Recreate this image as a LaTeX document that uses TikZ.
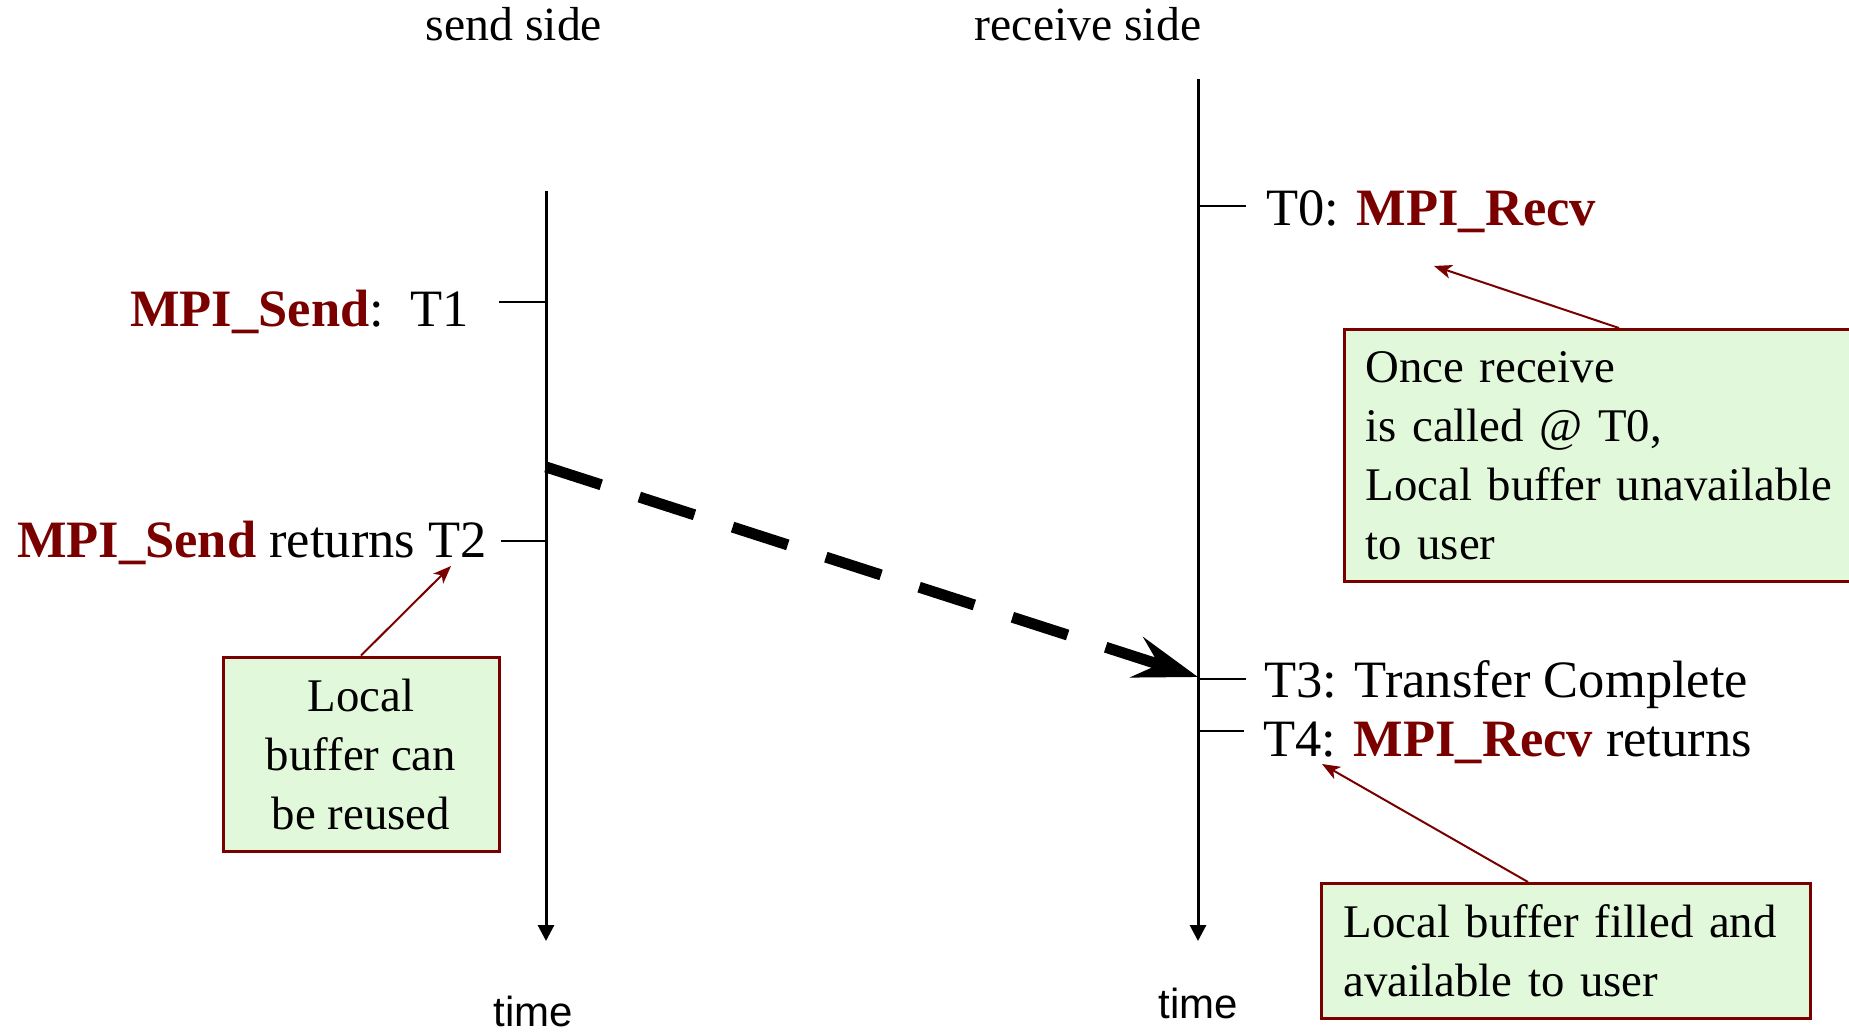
\documentclass[tikz,border=0pt]{standalone}
\usepackage{fontspec}
\setmainfont{Liberation Serif}
\newfontfamily\timefont{Liberation Sans}
\usetikzlibrary{arrows.meta,calc}
\definecolor{mpired}{RGB}{122,0,0}
\definecolor{notefill}{RGB}{226,248,218}
\newcommand{\mpiname}[1]{\textbf{\color{mpired}#1}}

\begin{document}
\begin{tikzpicture}[x=0.5pt,y=-0.5pt,
  lbl/.style={inner sep=0pt,font=\fontsize{26.25pt}{31.5pt}\selectfont},
  hdr/.style={inner sep=0pt,anchor=base,font=\fontsize{23.85pt}{28pt}\selectfont},
  timelbl/.style={inner sep=0pt,anchor=base,font=\timefont\fontsize{21pt}{25pt}\selectfont},
  axisline/.style={line width=1.5pt,-{Triangle[length=8pt,width=8pt]}},
  tickmark/.style={line width=1.25pt},
  note/.style={draw=mpired,fill=notefill,line width=1.5pt,inner sep=0pt,
    font=\fontsize{23.4pt}{29.5pt}\selectfont},
  pointer/.style={draw=mpired,line width=1pt,-{Stealth[length=9pt,width=7pt,inset=2.5pt]}},
  transfer/.style={line width=5.5pt,dash pattern=on 29pt off 20pt,
    -{Stealth[length=32pt,width=21pt,inset=11.5pt]}}
]
\useasboundingbox (0,0) rectangle (1849,1034);
\fill[white] (0,0) rectangle (1849,1034);
\clip (0,0) rectangle (1849,1034);

% column headers
\node[hdr] (hsend) at (514,40) {send side};
\node[hdr] (hrecv) at (1088,40) {receive side};

% time axes
\coordinate (stop) at (546,191);
\coordinate (sbot) at (546,941);
\coordinate (rtop) at (1198,79);
\coordinate (rbot) at (1198,941);
\draw[axisline] (stop) -- (sbot);
\draw[axisline] (rtop) -- (rbot);
\node[timelbl] (stime) at (533,1026) {time};
\node[timelbl] (rtime) at (1198,1018) {time};

% event ticks on the send side
\coordinate (t1a) at (499,302);  \coordinate (t1b) at (546,302);
\coordinate (t2a) at (501,541);  \coordinate (t2b) at (546,541);
\draw[tickmark] (t1a) -- (t1b);
\draw[tickmark] (t2a) -- (t2b);
\node[lbl,anchor=base east] (t1) at (469,326) {\mpiname{MPI\_Send}:\ \ T1};
\node[lbl,anchor=base east] (t2) at (487,557) {\mpiname{MPI\_Send} returns T2};

% event ticks on the receive side
\coordinate (t0a) at (1198,206); \coordinate (t0b) at (1246,206);
\coordinate (t3a) at (1198,679); \coordinate (t3b) at (1246,679);
\coordinate (t4a) at (1198,731); \coordinate (t4b) at (1244,731);
\draw[tickmark] (t0a) -- (t0b);
\draw[tickmark] (t3a) -- (t3b);
\draw[tickmark] (t4a) -- (t4b);
\node[lbl,anchor=base west] (t0) at (1266,225) {T0: \mpiname{MPI\_Recv}};
\node[lbl,anchor=base west] (t3) at (1264,697) {T3: Transfer Complete};
\node[lbl,anchor=base west] (t4) at (1263,756) {T4: \mpiname{MPI\_Recv} returns};

% message transfer
\coordinate (xstart) at (546,467);
\coordinate (xend) at (1198,677);
\draw[transfer] (xstart) -- (xend);

% notes
\node[note,align=center,minimum width=138pt,minimum height=97pt] (lnote) at (361,754)
  {Local\\buffer can\\be reused};
\node[note,anchor=north west,align=left,inner xsep=10.5pt,text width=239pt,minimum height=126pt]
  (rnote) at (1343,328)
  {Once receive\\is called @ T0,\\Local buffer unavailable\\to user};
\node[note,anchor=north west,align=left,inner xsep=11pt,text width=222.5pt,minimum height=67.5pt]
  (fnote) at (1320,882)
  {Local buffer filled and\\available to user};

% note pointers
\coordinate (ltip) at (451,566);
\coordinate (rtip) at (1434,266);
\coordinate (ftip) at (1322,764);
\draw[pointer] (lnote.north) -- (ltip);
\draw[pointer] ($(rnote.north west)+(276,0)$) -- (rtip);
\draw[pointer] ($(fnote.north west)+(208,0)$) -- (ftip);
\end{tikzpicture}
\end{document}
